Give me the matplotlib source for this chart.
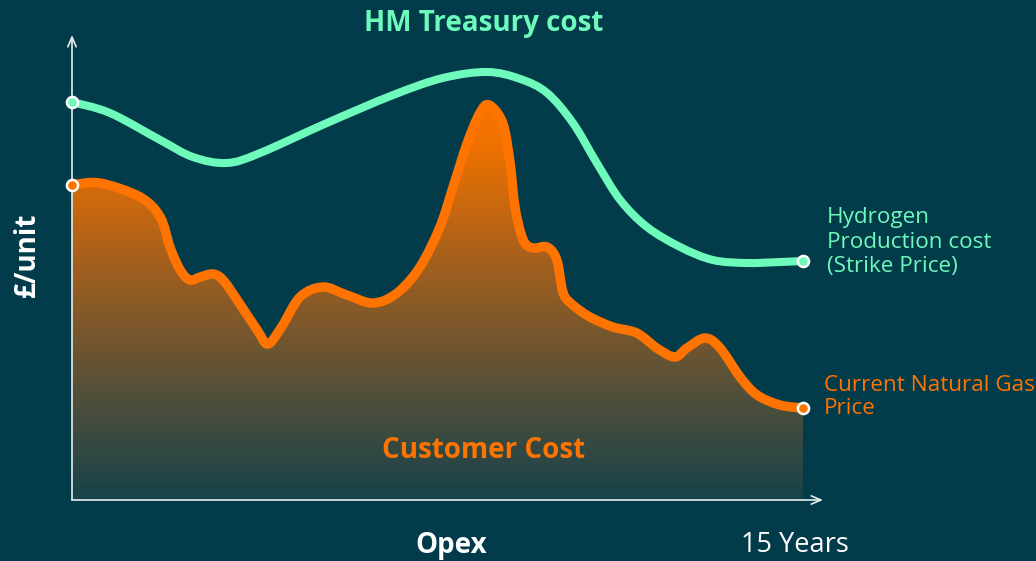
import numpy as np
import matplotlib.pyplot as plt
from matplotlib.colors import LinearSegmentedColormap
from matplotlib.path import Path
from matplotlib.patches import PathPatch

# colours
bg = '#023B4A'
green = '#6DFABB'
orange = '#FF7300'

# Hydrogen production cost (strike price) - years vs £/unit (arbitrary)
h2_years = [0.00, 0.78, 1.81, 2.48, 3.18, 3.86, 5.23, 6.59, 7.61,
            8.52, 9.20, 9.75, 10.28, 10.77, 11.25, 11.80, 12.48, 13.15, 13.85,
            14.53, 15.00]
h2_cost = [398, 387, 360, 343, 337, 347, 377, 405, 422,
           428, 421, 407, 377, 337, 300, 273, 253, 240, 237,
           238, 239]

# Current natural gas price
gas_years = [0.00, 0.57, 1.40, 1.81, 2.01, 2.22, 2.42, 2.63, 2.89,
             3.10, 3.39, 3.80, 4.02, 4.30, 4.68, 5.15,
             5.64, 6.18, 6.67, 7.14, 7.55, 7.82, 8.11, 8.37, 8.56,
             8.84, 8.99, 9.09, 9.26, 9.46, 9.75, 9.95, 10.08, 10.28, 10.63,
             11.10, 11.59, 12.00, 12.37, 12.62, 12.99, 13.30, 13.71, 14.06,
             14.53, 15.00]
gas_price = [315, 317, 303, 283, 253, 230, 220, 223, 226,
             220, 200, 170, 156, 173, 203, 213,
             205, 197, 207, 233, 273, 313, 357, 387, 395,
             377, 337, 293, 260, 252, 253, 240, 207, 195, 183,
             173, 167, 152, 143, 152, 162, 152, 123, 105,
             95, 92]

px_per_year = 48.73


# smooth path through the read points (catmull-rom drawn as bezier curves)
def smooth_path(xs, ys, close_to=None):
    p = np.column_stack([xs, ys]).astype(float)
    ext = np.vstack([p[0], p, p[-1]])
    verts = [p[0]]
    codes = [Path.MOVETO]
    for i in range(1, len(ext) - 2):
        c1 = ext[i] + (ext[i + 1] - ext[i - 1]) / 6
        c2 = ext[i + 1] - (ext[i + 2] - ext[i]) / 6
        verts += [c1, c2, ext[i + 1]]
        codes += [Path.CURVE4] * 3
    if close_to is not None:
        verts += [(xs[-1], close_to), (xs[0], close_to), p[0]]
        codes += [Path.LINETO, Path.LINETO, Path.CLOSEPOLY]
    return Path(verts, codes)


fig = plt.figure(figsize=(10.36, 5.61), dpi=100, facecolor=bg)
ax = fig.add_axes([0, 0, 1, 1])
ax.set_facecolor(bg)
ax.axis('off')

# gradient area under the gas price
area = PathPatch(smooth_path(gas_years, gas_price, close_to=0),
                 facecolor='none', edgecolor='none', transform=ax.transData)
ax.add_patch(area)
cmap = LinearSegmentedColormap.from_list(
    'grad', [(0, '#17424A'), (0.3, '#5E5236'), (0.58, '#A8601C'),
             (0.85, '#F07200'), (1, '#F87400')])
grad = np.linspace(0, 1, 256).reshape(-1, 1)
img = ax.imshow(grad, cmap=cmap, origin='lower', aspect='auto',
                extent=[0, 15, 0, 420], zorder=1)
img.set_clip_path(area)
ax.set_xlim(-72 / px_per_year, (1036 - 72) / px_per_year)
ax.set_ylim(-61, 500)

# axes arrows
ax.annotate('', xy=(0, 465), xytext=(0, 0),
            arrowprops=dict(arrowstyle='->,head_length=0.7,head_width=0.3',
                            color='#E6EEF0', lw=1.2, shrinkA=0, shrinkB=0), zorder=3)
ax.annotate('', xy=(751 / px_per_year, 0), xytext=(0, 0),
            arrowprops=dict(arrowstyle='->,head_length=0.7,head_width=0.3',
                            color='#E6EEF0', lw=1.2, shrinkA=0, shrinkB=0), zorder=3)

# lines
ax.add_patch(PathPatch(smooth_path(h2_years, h2_cost), facecolor='none',
                       edgecolor=green, lw=5.8, capstyle='round',
                       joinstyle='round', zorder=4))
ax.add_patch(PathPatch(smooth_path(gas_years, gas_price), facecolor='none',
                       edgecolor=orange, lw=6.8, capstyle='round',
                       joinstyle='round', zorder=4))

# end markers
for xs, ys, c in [(h2_years, h2_cost, green), (gas_years, gas_price, orange)]:
    ax.plot([xs[0], xs[-1]], [ys[0], ys[-1]], 'o', ms=8, mfc=c, mec='white',
            mew=1.8, zorder=5)

# text
font = ['Open Sans', 'DejaVu Sans']


def fx(x):
    return x / 1036


def fy(y):
    return 1 - y / 561


fig.text(fx(484), fy(23), 'HM Treasury cost', color=green, fontsize=20,
         fontweight='bold', ha='center', va='center', family=font)
fig.text(fx(27), fy(255), '£/unit', color='white', fontsize=20,
         fontweight='bold', ha='center', va='center', rotation=90, family=font)
fig.text(fx(451), fy(545), 'Opex', color='white', fontsize=20,
         fontweight='bold', ha='center', va='center', family=font)
fig.text(fx(795), fy(545), '15 Years', color='white', fontsize=19.5,
         ha='center', va='center', family=font)
fig.text(fx(484), fy(450), 'Customer Cost', color=orange, fontsize=20,
         fontweight='bold', ha='center', va='center', family=font)
fig.text(fx(827), fy(242), 'Hydrogen\nProduction cost\n(Strike Price)', color=green,
         fontsize=16.2, ha='left', va='center', linespacing=1.22, family=font)
fig.text(fx(824), fy(397), 'Current Natural Gas\nPrice', color=orange,
         fontsize=16.2, ha='left', va='center', linespacing=1.12, family=font)

fig.savefig('out.png', dpi=100, facecolor=bg)
